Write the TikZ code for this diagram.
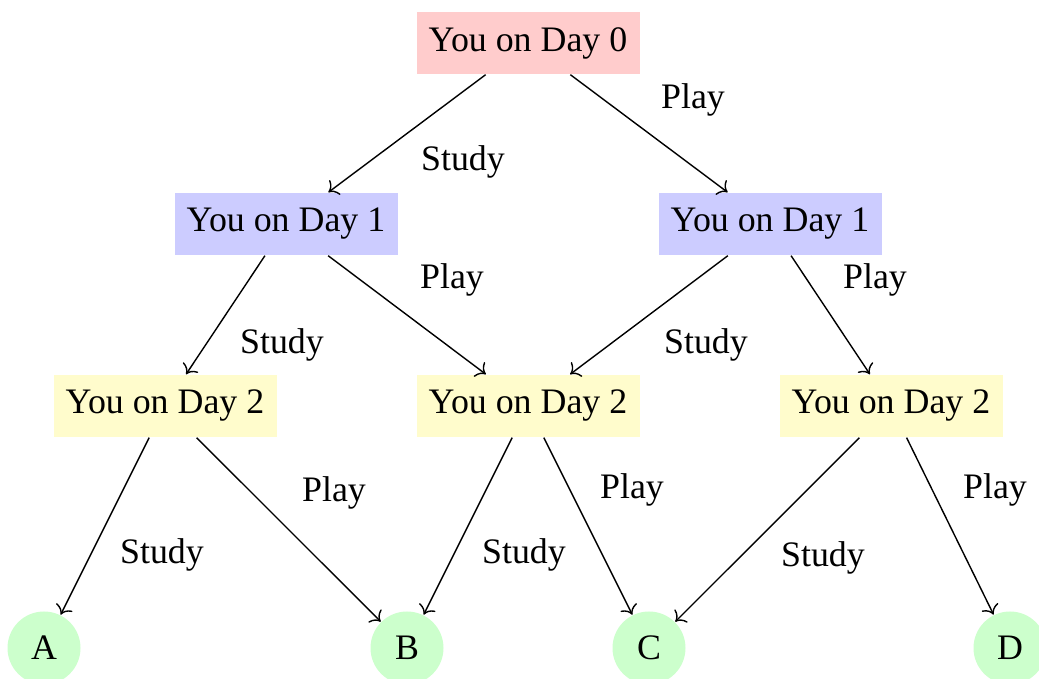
\documentclass[tikz,border=0pt]{standalone}
\usepackage{fontspec}
\setmainfont{Liberation Serif}
\usepackage{tikz}
\usetikzlibrary{arrows.meta}
\tikzset{
  daybox/.style={fill=#1, minimum width=2.23cm, minimum height=0.62cm, inner sep=0pt},
  endcirc/.style={circle, fill=green!20, minimum size=0.73cm, inner sep=0pt},
  lbl/.style={inner sep=1pt}
}

\begin{document}
\begin{tikzpicture}[font=\fontsize{10.2}{12}\selectfont]
  \useasboundingbox (0,0) rectangle (10.39,6.79);

  % Days
  \node[daybox=red!20] (d0) at (5.28,6.36) {You on Day 0};
  \node[daybox=blue!20] (d1l) at (2.86,4.55) {You on Day 1};
  \node[daybox=blue!20] (d1r) at (7.70,4.55) {You on Day 1};
  \node[daybox=yellow!20] (d2l) at (1.65,2.73) {You on Day 2};
  \node[daybox=yellow!20] (d2m) at (5.28,2.73) {You on Day 2};
  \node[daybox=yellow!20] (d2r) at (8.91,2.73) {You on Day 2};

  % Outcomes
  \node[endcirc] (a) at (0.44,0.31) {A};
  \node[endcirc] (b) at (4.07,0.31) {B};
  \node[endcirc] (c) at (6.49,0.31) {C};
  \node[endcirc] (d) at (10.10,0.31) {D};

  % Choices
  \draw[->] (d0) -- (d1l);
  \draw[->] (d0) -- (d1r);
  \draw[->] (d1l) -- (d2l);
  \draw[->] (d1l) -- (d2m);
  \draw[->] (d1r) -- (d2m);
  \draw[->] (d1r) -- (d2r);
  \draw[->] (d2l) -- (a);
  \draw[->] (d2l) -- (b);
  \draw[->] (d2m) -- (b);
  \draw[->] (d2m) -- (c);
  \draw[->] (d2r) -- (c);
  \draw[->] (d2r) -- (d);

  % Labels
  \node[lbl] (s0) at (4.63,5.17) {Study};
  \node[lbl] (p0) at (6.93,5.79) {Play};
  \node[lbl] (s1l) at (2.82,3.34) {Study};
  \node[lbl] (p1l) at (4.52,3.99) {Play};
  \node[lbl] (s1r) at (7.06,3.34) {Study};
  \node[lbl] (p1r) at (8.75,3.99) {Play};
  \node[lbl] (s2l) at (1.62,1.24) {Study};
  \node[lbl] (p2l) at (3.34,1.86) {Play};
  \node[lbl] (s2m) at (5.24,1.24) {Study};
  \node[lbl] (p2m) at (6.32,1.89) {Play};
  \node[lbl] (s2r) at (8.23,1.21) {Study};
  \node[lbl] (p2r) at (9.95,1.89) {Play};
\end{tikzpicture}
\end{document}
